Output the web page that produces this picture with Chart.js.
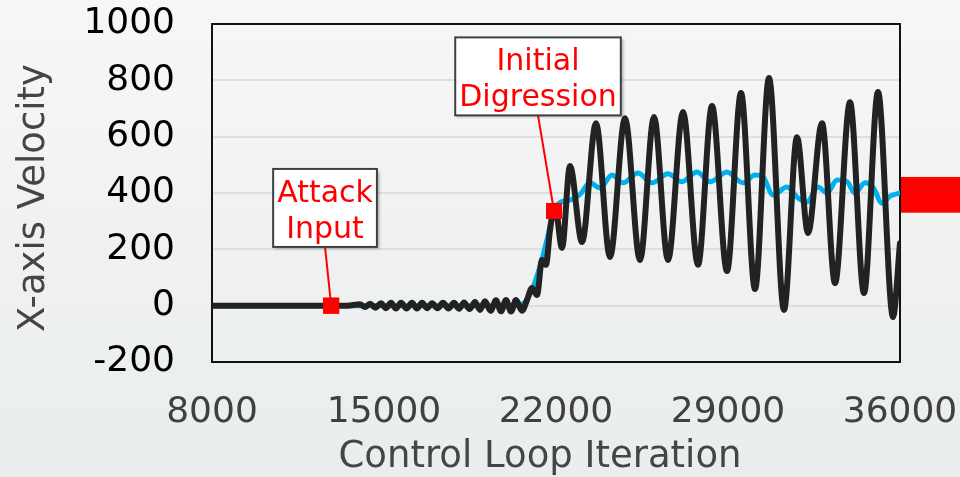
<!DOCTYPE html>
<html><head><meta charset="utf-8">
<script src="https://cdn.jsdelivr.net/npm/chart.js@4.4.1/dist/chart.umd.min.js"></script>
<style>html,body{margin:0;padding:0;background:#f0f1f1;}canvas{display:block;}</style>
</head><body>
<canvas id="c" width="960" height="477"></canvas>
<script>
// ---- data ----
const xTicks = [8000, 15000, 22000, 29000, 36000];
const yTicks = [-200, 0, 200, 400, 600, 800, 1000];
const xTitle = "Control Loop Iteration";
const yTitle = "X-axis Velocity";

const blackX = [8000,13494,14023,14227,14430,14654,14878,15081,15285,15488,15692,15916,16140,16343,16547,16750,16954,17178,17401,17625,17849,18053,18256,18480,18704,18907,19111,19335,19558,19762,19965,20169,20372,20616,20820,21023,21227,21430,21593,21756,21960,22244,22570,23059,23628,24198,24808,25419,25989,26558,27169,27779,28349,28959,29529,30099,30669,31279,31808,32256,32826,33355,33965,34535,35105,35715,36000];
const blackY = [0,0,5,-5,7,-7,9,-9,10,-10,10,-10,10,-10,10,-9,9,-9,10,-10,10,-11,11,-12,13,-15,16,-18,19,-20,20,-21,20,-18,20,63,38,162,145,268,355,205,496,226,648,173,665,162,670,162,688,145,709,123,755,59,808,-15,598,258,648,80,722,45,759,-40,222];

const blueX = [8000,20470,20942,21349,21674,21878,22163,22570,22977,23384,23791,24279,24727,25337,25907,26558,27128,27739,28268,28959,29610,30099,30425,30832,31401,31849,32215,32663,33029,33436,33843,34169,34576,34902,35268,35594,36000];
const blueY = [0,0,40,140,250,330,366,375,395,436,418,464,436,471,436,468,440,475,440,475,436,464,457,393,421,382,368,421,400,446,440,400,436,421,364,389,400];

const markerX = [12850, 21919];
const markerY = [0, 336];
const noteText = [["Attack", "Input"], ["Initial", "Digression"]];
const noteX = [12600, 21268];
const noteY = [347, 814];
const sideMarkY = [457, 330];

const FONT = '"DejaVu Sans", Verdana, sans-serif';

const pts = (xs, ys) => xs.map((x, i) => ({x, y: ys[i]}));

const deco = {
  id: 'deco',
  beforeDraw(chart) {
    const {ctx, width, height} = chart;
    const g = ctx.createLinearGradient(0, 0, 0, height);
    g.addColorStop(0, '#f6f7f7');
    g.addColorStop(1, '#eaeded');
    ctx.save(); ctx.fillStyle = g; ctx.fillRect(0, 0, width, height); ctx.restore();
  },
  beforeDatasetsDraw(chart) {
    const a = chart.chartArea, ctx = chart.ctx;
    ctx.save();
    ctx.strokeStyle = '#111'; ctx.lineWidth = 2;
    ctx.strokeRect(a.left, a.top, a.right - a.left, a.bottom - a.top);
    ctx.restore();
  },
  afterDatasetsDraw(chart) {
    const ctx = chart.ctx, xs = chart.scales.x, ys = chart.scales.y, a = chart.chartArea;
    ctx.save();
    const t = ys.getPixelForValue(sideMarkY[0]), b = ys.getPixelForValue(sideMarkY[1]);
    ctx.fillStyle = '#ff0000';
    ctx.fillRect(a.right + 1, t, chart.width - a.right - 1, b - t);
    ctx.font = '30px ' + FONT;
    noteText.forEach((lines, i) => {
      const cx = xs.getPixelForValue(noteX[i]), cy = ys.getPixelForValue(noteY[i]);
      const mx = xs.getPixelForValue(markerX[i]), my = ys.getPixelForValue(markerY[i]);
      const w = Math.max(...lines.map(l => ctx.measureText(l).width)) + 8;
      const h = 78;
      ctx.strokeStyle = '#ff0000'; ctx.lineWidth = 2;
      ctx.beginPath(); ctx.moveTo(cx, cy + h / 2); ctx.lineTo(mx, my); ctx.stroke();
      ctx.save();
      ctx.shadowColor = 'rgba(0,0,0,0.35)'; ctx.shadowOffsetX = 2; ctx.shadowOffsetY = 2; ctx.shadowBlur = 3;
      ctx.fillStyle = '#ffffff';
      ctx.fillRect(cx - w / 2, cy - h / 2, w, h);
      ctx.restore();
      ctx.strokeStyle = '#404040'; ctx.lineWidth = 2;
      ctx.strokeRect(cx - w / 2, cy - h / 2, w, h);
      ctx.fillStyle = '#ff0000'; ctx.textAlign = 'center'; ctx.textBaseline = 'alphabetic';
      ctx.fillText(lines[0], cx, cy - 6);
      ctx.fillText(lines[1], cx, cy + 30);
    });
    ctx.fillStyle = '#ff0000';
    markerX.forEach((v, i) => {
      const px = xs.getPixelForValue(v), py = ys.getPixelForValue(markerY[i]);
      ctx.fillRect(px - 8, py - 8, 16, 16);
    });
    ctx.restore();
  },
  afterDraw(chart) {
    const ctx = chart.ctx;
    ctx.save();
    ctx.fillStyle = '#454545';
    ctx.font = '37px ' + FONT;
    ctx.textAlign = 'center'; ctx.textBaseline = 'alphabetic';
    ctx.fillText(xTitle, 540, 467);
    ctx.translate(44, 198); ctx.rotate(-Math.PI / 2);
    ctx.fillText(yTitle, 0, 0);
    ctx.restore();
  }
};

new Chart(document.getElementById('c'), {
  type: 'line',
  data: {
    datasets: [
      {
        label: 'Events', data: pts(markerX, markerY), showLine: false,
        pointStyle: 'rect', pointRadius: 11.3, pointBackgroundColor: '#ff0000', pointBorderWidth: 0
      },
      {
        label: 'Attacked', data: pts(blackX, blackY), borderColor: '#222222', borderWidth: 6,
        pointRadius: 0, cubicInterpolationMode: 'monotone', borderJoinStyle: 'round', borderCapStyle: 'round'
      },
      {
        label: 'Nominal', data: pts(blueX, blueY), borderColor: '#00b0f0', borderWidth: 5,
        pointRadius: 0, cubicInterpolationMode: 'monotone', borderJoinStyle: 'round', borderCapStyle: 'round'
      }
    ]
  },
  options: {
    responsive: false, animation: false, devicePixelRatio: 1,
    layout: {padding: {left: 0, right: 60, top: 24, bottom: 0}},
    plugins: {legend: {display: false}, tooltip: {enabled: false}},
    scales: {
      x: {
        type: 'linear', min: xTicks[0], max: xTicks[xTicks.length - 1],
        afterBuildTicks: s => { s.ticks = xTicks.map(v => ({value: v})); },
        afterFit: s => { s.height = 115; s.paddingLeft = 0; s.paddingRight = 0; },
        grid: {display: false, drawTicks: false},
        border: {display: false},
        ticks: {color: '#404040', font: {family: FONT, size: 36}, padding: 29, maxRotation: 0, autoSkip: false,
                callback: v => String(v)}
      },
      y: {
        type: 'linear', min: yTicks[0], max: yTicks[yTicks.length - 1],
        afterBuildTicks: s => { s.ticks = yTicks.map(v => ({value: v})); },
        afterFit: s => { s.width = 212; s.paddingTop = 0; s.paddingBottom = 0; },
        grid: {color: '#dedede', lineWidth: 2, drawTicks: false},
        border: {display: false},
        ticks: {color: '#000000', font: {family: FONT, size: 36}, padding: 37,
                callback: v => String(v)}
      }
    }
  },
  plugins: [deco]
});
</script>
</body></html>
